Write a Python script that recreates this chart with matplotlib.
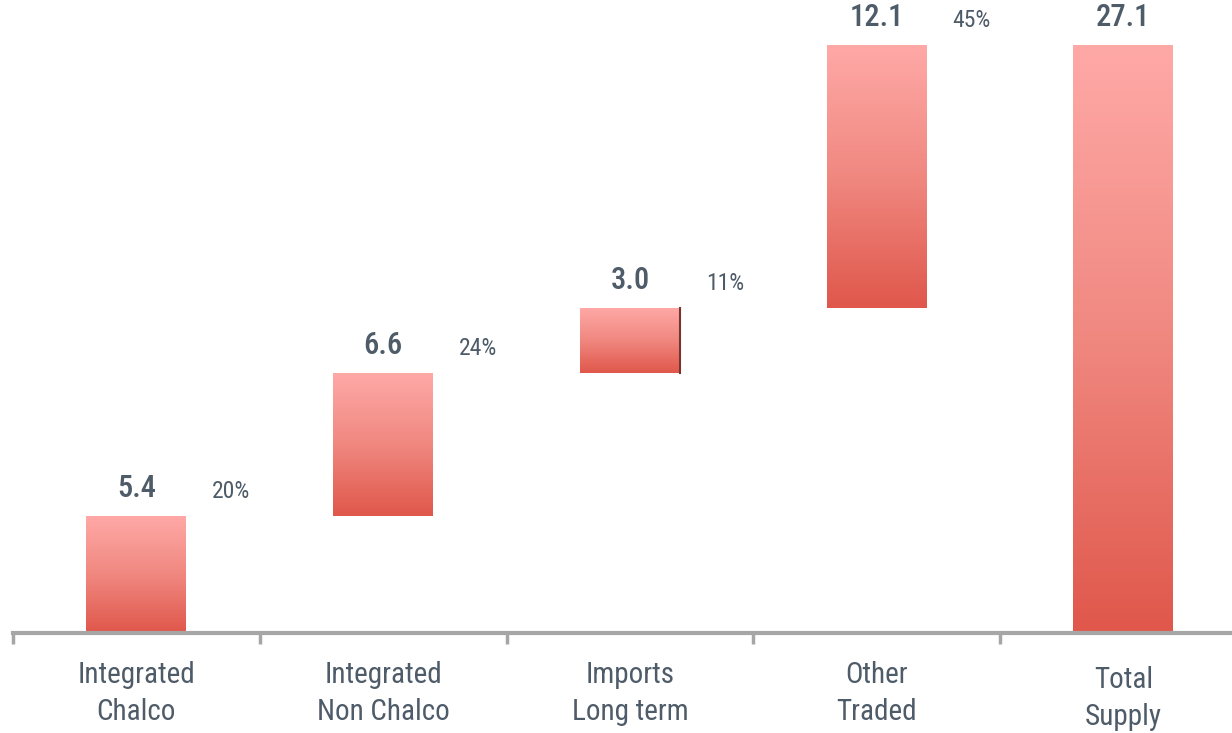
import matplotlib.pyplot as plt
import numpy as np
from matplotlib.colors import LinearSegmentedColormap

categories = ["Integrated\nChalco", "Integrated\nNon Chalco", "Imports\nLong term", "Other\nTraded", "Total\nSupply"]
values = [5.4, 6.6, 3.0, 12.1, 27.1]
shares = ["20%", "24%", "11%", "45%", None]

plt.rcParams['font.family'] = ['Roboto Condensed', 'Liberation Sans Narrow', 'Roboto', 'DejaVu Sans']
text_color = "#4E5B68"

# waterfall bottoms: running total, last bar starts at zero
bottoms = list(np.cumsum([0] + values[:3])) + [0]

fig = plt.figure(figsize=(12.32, 7.33), dpi=100)
ax = fig.add_axes([13 / 1232, 100 / 733, 1219 / 1232, 633 / 733])

x = np.arange(len(categories))
bars = ax.bar(x, values, bottom=bottoms, width=0.405, color="none", edgecolor="none")

cmap = LinearSegmentedColormap.from_list("grad", ["#E0574B", "#F08880", "#FFA9A7"])
grad = np.linspace(0, 1, 256).reshape(-1, 1)
for b in bars:
    x0, y0 = b.get_x(), b.get_y()
    im = ax.imshow(grad, cmap=cmap, origin="lower", aspect="auto",
                   extent=[x0, x0 + b.get_width(), y0, y0 + b.get_height()], zorder=2)
    im.set_clip_path(b)

# the imports bar has a dark right edge in the original
b = bars[2]
ax.plot([b.get_x() + b.get_width()] * 2, [b.get_y(), b.get_y() + b.get_height()],
        color="#7A3430", lw=1.5, zorder=3)

for i, b in enumerate(bars):
    top = b.get_y() + b.get_height()
    ax.text(i, top + 0.6, f"{values[i]:.1f}", ha="center", va="bottom",
            fontsize=22, fontweight="medium", color=text_color)
    if shares[i]:
        ax.text(i + 0.385, top + 0.6, shares[i], ha="center", va="bottom",
                fontsize=17, color=text_color)

ax.set_xlim(-0.5, -0.5 + 1219 / 246.75)
ax.set_ylim(0, 27.1 * 633 / 588)

for s in ["top", "right", "left"]:
    ax.spines[s].set_visible(False)
ax.spines["bottom"].set_color("#A6A6A6")
ax.spines["bottom"].set_linewidth(3)
ax.set_yticks([])

ax.set_xticks(x)
ax.set_xticklabels(categories, fontsize=21, color=text_color, linespacing=1.4)
ax.tick_params(axis="x", which="major", length=0, pad=20)
ax.get_xticklabels()[-1].set_y(-0.008)
ax.set_xticks(np.arange(-0.5, 4.5, 1), minor=True)
ax.tick_params(axis="x", which="minor", length=8, width=2.5, color="#A6A6A6", direction="out")

fig.savefig("out.png", dpi=100)
